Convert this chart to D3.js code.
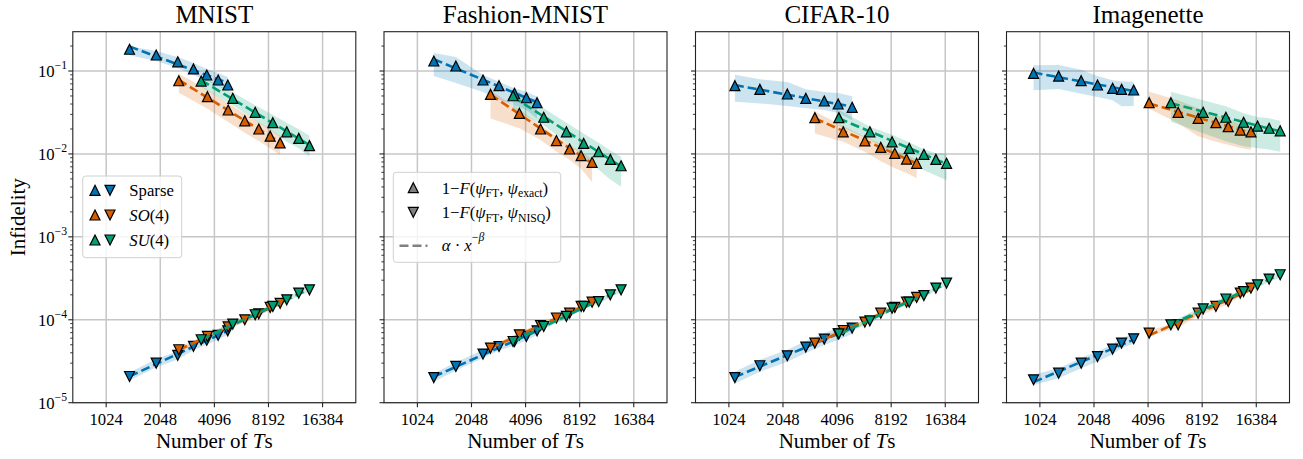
<!DOCTYPE html>
<html><head><meta charset="utf-8">
<script src="https://cdn.jsdelivr.net/npm/d3@7"></script>
<style>
body{margin:0;background:#fff}
svg{display:block}
text{font-family:"Liberation Serif","Times New Roman",serif;fill:#000}
</style>
</head><body>
<svg id="chart" width="1303" height="459"></svg>
<script>
// Panels, ticks and series labels
const datasets = ["MNIST", "Fashion-MNIST", "CIFAR-10", "Imagenette"];
const xTicks = [1024, 2048, 4096, 8192, 16384];
const yTicks = [1e-5, 1e-4, 1e-3, 1e-2, 1e-1];
const seriesNames = ["Sparse", "SO(4)", "SU(4)"];
const seriesColors = ["#0173b2", "#d55e00", "#029e73"];

// Rows: [number of Ts, 1-F exact, exact low, exact high, 1-F NISQ, NISQ low, NISQ high]
const mnistSparse = [
  [1381, 0.183, 0.155, 0.199, 2.07e-5, 1.85e-5, 2.32e-5],
  [1943, 0.156, 0.132, 0.174, 3.0e-5, 2.68e-5, 3.36e-5],
  [2562, 0.129, 0.109, 0.148, 3.73e-5, 3.33e-5, 4.18e-5],
  [3134, 0.106, 0.0898, 0.125, 4.79e-5, 4.28e-5, 5.36e-5],
  [3714, 0.0895, 0.0758, 0.1057, 5.66e-5, 5.05e-5, 6.34e-5],
  [4300, 0.0779, 0.066, 0.0946, 6.5e-5, 5.8e-5, 7.28e-5],
  [4864, 0.0678, 0.0574, 0.0847, 7.36e-5, 6.57e-5, 8.24e-5]
];
const mnistSO4 = [
  [2596, 0.0763, 0.0547, 0.093, 4.35e-5, 4.07e-5, 4.65e-5],
  [3748, 0.049, 0.0351, 0.06, 6.3e-5, 5.89e-5, 6.74e-5],
  [4888, 0.0339, 0.0243, 0.041, 8.2e-5, 7.66e-5, 8.77e-5],
  [6046, 0.0251, 0.018, 0.0305, 1.0e-4, 9.35e-5, 1.07e-4],
  [7235, 0.02, 0.0143, 0.0243, 1.18e-4, 1.1e-4, 1.26e-4],
  [8370, 0.0164, 0.0117, 0.02, 1.41e-4, 1.32e-4, 1.51e-4],
  [9515, 0.0136, 0.0097, 0.0165, 1.58e-4, 1.48e-4, 1.69e-4]
];
const mnistSU4 = [
  [3458, 0.0757, 0.0641, 0.0846, 5.74e-5, 5.36e-5, 6.14e-5],
  [5185, 0.0469, 0.0386, 0.0554, 8.87e-5, 8.29e-5, 9.49e-5],
  [6909, 0.0318, 0.0255, 0.0386, 1.15e-4, 1.07e-4, 1.23e-4],
  [8660, 0.0238, 0.0185, 0.0297, 1.45e-4, 1.36e-4, 1.55e-4],
  [10356, 0.0185, 0.014, 0.0238, 1.74e-4, 1.63e-4, 1.86e-4],
  [12078, 0.0154, 0.0117, 0.0198, 2.1e-4, 1.96e-4, 2.25e-4],
  [13855, 0.0126, 0.0093, 0.0166, 2.3e-4, 2.15e-4, 2.46e-4]
];
const fashionSparse = [
  [1264, 0.132, 0.087, 0.165, 2.01e-5, 1.79e-5, 2.25e-5],
  [1676, 0.115, 0.0719, 0.148, 2.74e-5, 2.45e-5, 3.07e-5],
  [2374, 0.0779, 0.0558, 0.0895, 3.86e-5, 3.45e-5, 4.32e-5],
  [2915, 0.0665, 0.0451, 0.0743, 4.76e-5, 4.25e-5, 5.33e-5],
  [3553, 0.0538, 0.0385, 0.0618, 5.47e-5, 4.88e-5, 6.13e-5],
  [4137, 0.0476, 0.0341, 0.0562, 6.3e-5, 5.63e-5, 7.06e-5],
  [4747, 0.0415, 0.0266, 0.049, 7.36e-5, 6.57e-5, 8.24e-5]
];
const fashionSO4 = [
  [2613, 0.0523, 0.0268, 0.0584, 4.56e-5, 4.26e-5, 4.88e-5],
  [3783, 0.0309, 0.0204, 0.0345, 6.59e-5, 6.16e-5, 7.05e-5],
  [4962, 0.02, 0.0147, 0.0223, 8.53e-5, 7.97e-5, 9.13e-5],
  [6079, 0.0145, 0.0107, 0.0162, 1.05e-4, 9.81e-5, 1.12e-4],
  [7201, 0.01147, 0.00845, 0.0128, 1.2e-4, 1.12e-4, 1.28e-4],
  [8348, 0.00952, 0.00663, 0.0106, 1.45e-4, 1.36e-4, 1.55e-4],
  [9604, 0.00793, 0.00455, 0.00886, 1.63e-4, 1.52e-4, 1.74e-4]
];
const fashionSU4 = [
  [3489, 0.0503, 0.0341, 0.0611, 5.47e-5, 5.11e-5, 5.85e-5],
  [5167, 0.0277, 0.0222, 0.0356, 8.3e-5, 7.76e-5, 8.88e-5],
  [6911, 0.0185, 0.0136, 0.0238, 1.1e-4, 1.03e-4, 1.18e-4],
  [8626, 0.0134, 0.00934, 0.0177, 1.45e-4, 1.36e-4, 1.55e-4],
  [10448, 0.01063, 0.00645, 0.01365, 1.66e-4, 1.55e-4, 1.78e-4],
  [12133, 0.0086, 0.00493, 0.011, 2.0e-4, 1.87e-4, 2.14e-4],
  [13928, 0.0072, 0.00402, 0.00925, 2.3e-4, 2.15e-4, 2.46e-4]
];
const cifarSparse = [
  [1106, 0.0665, 0.0426, 0.0902, 2.01e-5, 1.7e-5, 2.37e-5],
  [1523, 0.0601, 0.0407, 0.0793, 2.79e-5, 2.36e-5, 3.29e-5],
  [2164, 0.0528, 0.0378, 0.0737, 3.68e-5, 3.12e-5, 4.34e-5],
  [2744, 0.0469, 0.0355, 0.0602, 4.69e-5, 3.97e-5, 5.53e-5],
  [3477, 0.0435, 0.0339, 0.0559, 5.85e-5, 4.96e-5, 6.9e-5],
  [4153, 0.04, 0.0312, 0.0543, 6.77e-5, 5.74e-5, 7.99e-5],
  [4970, 0.0365, 0.0254, 0.0495, 7.94e-5, 6.73e-5, 9.37e-5]
];
const cifarSO4 = [
  [3082, 0.0274, 0.0176, 0.0324, 5.24e-5, 4.9e-5, 5.61e-5],
  [4433, 0.0185, 0.014, 0.0218, 7.43e-5, 6.94e-5, 7.95e-5],
  [5848, 0.0144, 0.0106, 0.0161, 9.38e-5, 8.77e-5, 1.0e-4],
  [7168, 0.012, 0.00814, 0.0134, 1.2e-4, 1.12e-4, 1.28e-4],
  [8580, 0.01017, 0.0067, 0.01105, 1.41e-4, 1.32e-4, 1.51e-4],
  [9976, 0.00868, 0.00588, 0.0097, 1.63e-4, 1.52e-4, 1.74e-4],
  [11350, 0.0077, 0.00508, 0.0086, 1.86e-4, 1.74e-4, 1.99e-4]
];
const cifarSU4 = [
  [4190, 0.0274, 0.0219, 0.0342, 6.77e-5, 6.33e-5, 7.24e-5],
  [6237, 0.0185, 0.0148, 0.0213, 9.72e-5, 9.08e-5, 1.04e-4],
  [8288, 0.014, 0.0103, 0.017, 1.38e-4, 1.29e-4, 1.48e-4],
  [10322, 0.0117, 0.00771, 0.0138, 1.63e-4, 1.52e-4, 1.74e-4],
  [12460, 0.0099, 0.00635, 0.01138, 1.96e-4, 1.83e-4, 2.1e-4],
  [14526, 0.0086, 0.00551, 0.01016, 2.41e-4, 2.25e-4, 2.58e-4],
  [16660, 0.0077, 0.0048, 0.01016, 2.77e-4, 2.59e-4, 2.96e-4]
];
const imagenetteSparse = [
  [944, 0.0938, 0.0585, 0.117, 1.89e-5, 1.64e-5, 2.17e-5],
  [1302, 0.087, 0.0606, 0.118, 2.27e-5, 1.97e-5, 2.61e-5],
  [1738, 0.0764, 0.0532, 0.1037, 3.0e-5, 2.61e-5, 3.45e-5],
  [2143, 0.0678, 0.0486, 0.087, 3.6e-5, 3.13e-5, 4.14e-5],
  [2600, 0.0618, 0.0443, 0.0772, 4.43e-5, 3.85e-5, 5.09e-5],
  [2917, 0.0601, 0.0375, 0.0751, 5.24e-5, 4.56e-5, 6.03e-5],
  [3406, 0.059, 0.0378, 0.0737, 5.9e-5, 5.13e-5, 6.79e-5]
];
const imagenetteSO4 = [
  [4153, 0.0415, 0.0351, 0.0563, 6.9e-5, 6.39e-5, 7.45e-5],
  [6022, 0.0318, 0.0234, 0.0444, 8.7e-5, 8.06e-5, 9.4e-5],
  [7777, 0.0269, 0.0163, 0.0355, 1.2e-4, 1.11e-4, 1.3e-4],
  [9765, 0.0238, 0.014, 0.0297, 1.45e-4, 1.34e-4, 1.57e-4],
  [11437, 0.0213, 0.0129, 0.0259, 1.66e-4, 1.54e-4, 1.79e-4],
  [13354, 0.0194, 0.0118, 0.0229, 2.1e-4, 1.94e-4, 2.27e-4],
  [15307, 0.0185, 0.0112, 0.0213, 2.41e-4, 2.23e-4, 2.6e-4]
];
const imagenetteSU4 = [
  [5487, 0.0415, 0.0244, 0.0563, 8.7e-5, 8.06e-5, 9.4e-5],
  [8293, 0.0318, 0.0178, 0.0444, 1.35e-4, 1.25e-4, 1.46e-4],
  [11099, 0.0277, 0.0142, 0.0376, 1.78e-4, 1.65e-4, 1.92e-4],
  [13927, 0.0241, 0.0124, 0.0309, 2.19e-4, 2.03e-4, 2.37e-4],
  [16660, 0.0217, 0.0117, 0.0279, 2.64e-4, 2.44e-4, 2.85e-4],
  [19318, 0.0204, 0.0113, 0.0269, 3.1e-4, 2.87e-4, 3.35e-4],
  [22256, 0.019, 0.0106, 0.0251, 3.49e-4, 3.23e-4, 3.77e-4]
];

const panelSeries = [
  [mnistSparse, mnistSO4, mnistSU4],
  [fashionSparse, fashionSO4, fashionSU4],
  [cifarSparse, cifarSO4, cifarSU4],
  [imagenetteSparse, imagenetteSO4, imagenetteSU4]
];

// Layout
const panelLeft = [72.8, 384, 695.5, 1006.5];
const panelTop = 31.7, panelW = 283, panelH = 371;
const tickFont = 16.7, labelFont = 21, titleFont = 25;

const svg = d3.select("#chart");
const x = d3.scaleLog().base(2).domain([667.6, 25080]).range([0, panelW]);
const y = d3.scaleLog().domain([1e-5, 0.298]).range([panelH, 0]);

const up = s => `M0,${-s}L${s},${s}L${-s},${s}Z`;
const down = s => `M0,${s}L${s},${-s}L${-s},${-s}Z`;
const mSize = 5;

// Power-law fit y = a * x^b in log-log space
function fit(rows, col) {
  const lx = rows.map(r => Math.log(r[0])), ly = rows.map(r => Math.log(r[col]));
  const mx = d3.mean(lx), my = d3.mean(ly);
  let num = 0, den = 0;
  lx.forEach((v, i) => { num += (v - mx) * (ly[i] - my); den += (v - mx) ** 2; });
  const b = num / den, a = my - b * mx;
  const x0 = d3.min(rows, r => r[0]), x1 = d3.max(rows, r => r[0]);
  return [[x0, Math.exp(a + b * Math.log(x0))], [x1, Math.exp(a + b * Math.log(x1))]];
}

function superText(sel, base, sup, fs, dy) {
  sel.append("tspan").text(base);
  sel.append("tspan").attr("font-size", fs * 0.7).attr("dy", dy).text(sup);
}

datasets.forEach((name, p) => {
  const g = svg.append("g").attr("transform", `translate(${panelLeft[p]},${panelTop})`);

  // grid
  g.append("g").selectAll("line").data(xTicks).join("line")
    .attr("x1", d => x(d)).attr("x2", d => x(d)).attr("y1", 0).attr("y2", panelH)
    .attr("stroke", "#c6c6c6").attr("stroke-width", 1.5);
  g.append("g").selectAll("line").data(yTicks).join("line")
    .attr("x1", 0).attr("x2", panelW).attr("y1", d => y(d)).attr("y2", d => y(d))
    .attr("stroke", "#c6c6c6").attr("stroke-width", 1.5);

  const series = panelSeries[p];

  // spread bands
  series.forEach((rows, s) => {
    const col = seriesColors[s];
    g.append("path").datum(rows)
      .attr("d", d3.area().x(r => x(r[0])).y0(r => y(r[2])).y1(r => y(r[3])))
      .attr("fill", col).attr("fill-opacity", 0.2);
    g.append("path").datum(rows)
      .attr("d", d3.area().x(r => x(r[0])).y0(r => y(r[5])).y1(r => y(r[6])))
      .attr("fill", col).attr("fill-opacity", 0.2);
  });

  // fits and markers
  const line = d3.line().x(d => x(d[0])).y(d => y(d[1]));
  series.forEach((rows, s) => {
    const col = seriesColors[s];
    [1, 4].forEach(c => {
      g.append("path").datum(fit(rows, c)).attr("d", line)
        .attr("fill", "none").attr("stroke", col).attr("stroke-width", 2.6)
        .attr("stroke-dasharray", "9,4");
    });
    g.append("g").selectAll("path").data(rows).join("path")
      .attr("transform", r => `translate(${x(r[0])},${y(r[1])})`)
      .attr("d", up(mSize)).attr("fill", col).attr("stroke", "#000").attr("stroke-width", 1.2);
    g.append("g").selectAll("path").data(rows).join("path")
      .attr("transform", r => `translate(${x(r[0])},${y(r[4])})`)
      .attr("d", down(mSize)).attr("fill", col).attr("stroke", "#000").attr("stroke-width", 1.2);
  });

  // frame
  g.append("rect").attr("width", panelW).attr("height", panelH)
    .attr("fill", "none").attr("stroke", "#222").attr("stroke-width", 1.1);

  // x ticks
  const xt = g.append("g").selectAll("g").data(xTicks).join("g")
    .attr("transform", d => `translate(${x(d)},${panelH})`);
  xt.append("line").attr("y2", 4.5).attr("stroke", "#222").attr("stroke-width", 1.1);
  xt.append("text").attr("y", 22.6).attr("text-anchor", "middle")
    .attr("font-size", tickFont).text(d => d);

  // y ticks (major + minor)
  const minor = [];
  for (let e = -5; e < 0; e++) for (let m = 2; m <= 9; m++) {
    const v = m * Math.pow(10, e);
    if (v <= 0.298) minor.push(v);
  }
  g.append("g").selectAll("line").data(minor).join("line")
    .attr("x1", -2.6).attr("x2", 0).attr("y1", d => y(d)).attr("y2", d => y(d))
    .attr("stroke", "#222").attr("stroke-width", 0.9);
  g.append("g").selectAll("line").data(yTicks).join("line")
    .attr("x1", -4.5).attr("x2", 0).attr("y1", d => y(d)).attr("y2", d => y(d))
    .attr("stroke", "#222").attr("stroke-width", 1.1);
  if (p === 0) {
    yTicks.forEach(v => {
      const t = g.append("text").attr("x", -5.8).attr("y", y(v) + 6.2)
        .attr("text-anchor", "end").attr("font-size", tickFont);
      superText(t, "10", "\u2212" + Math.round(-Math.log10(v)), tickFont, -8);
    });
  }

  // title and axis label
  g.append("text").attr("x", panelW / 2).attr("y", 23 - panelTop)
    .attr("text-anchor", "middle").attr("font-size", titleFont).text(name);
  const xl = g.append("text").attr("x", panelW / 2).attr("y", 448 - panelTop)
    .attr("text-anchor", "middle").attr("font-size", labelFont);
  xl.append("tspan").text("Number of ");
  xl.append("tspan").attr("font-style", "italic").text("T");
  xl.append("tspan").text("s");
});

// y label
svg.append("text").attr("transform", `translate(25,${panelTop + panelH / 2}) rotate(-90)`)
  .attr("text-anchor", "middle").attr("font-size", labelFont).text("Infidelity");

// Legend: series
{
  const lg = svg.append("g");
  lg.append("rect").attr("x", 82.7).attr("y", 176).attr("width", 99).attr("height", 81.7)
    .attr("rx", 3).attr("fill", "#fff").attr("fill-opacity", 0.8)
    .attr("stroke", "#d0d0d0").attr("stroke-width", 1);
  const ys = [190.3, 215, 240];
  seriesNames.forEach((nm, s) => {
    lg.append("path").attr("transform", `translate(95,${ys[s]})`).attr("d", up(mSize))
      .attr("fill", seriesColors[s]).attr("stroke", "#000").attr("stroke-width", 1.2);
    lg.append("path").attr("transform", `translate(110,${ys[s]})`).attr("d", down(mSize))
      .attr("fill", seriesColors[s]).attr("stroke", "#000").attr("stroke-width", 1.2);
    const t = lg.append("text").attr("x", 129.3).attr("y", ys[s] + 5.8).attr("font-size", tickFont);
    if (s === 0) t.text(nm);
    else {
      t.append("tspan").attr("font-style", "italic").text(nm.slice(0, 2));
      t.append("tspan").text(nm.slice(2));
    }
  });
}

// Legend: quantities
{
  const lg = svg.append("g");
  lg.append("rect").attr("x", 393.3).attr("y", 172.3).attr("width", 167.4).attr("height", 90)
    .attr("rx", 3).attr("fill", "#fff").attr("fill-opacity", 0.8)
    .attr("stroke", "#d0d0d0").attr("stroke-width", 1);
  lg.append("path").attr("transform", "translate(413.3,187.7)").attr("d", up(mSize))
    .attr("fill", "#808080").attr("stroke", "#000").attr("stroke-width", 1.2);
  lg.append("path").attr("transform", "translate(413.3,212.3)").attr("d", down(mSize))
    .attr("fill", "#808080").attr("stroke", "#000").attr("stroke-width", 1.2);
  lg.append("line").attr("x1", 399.5).attr("x2", 427.5).attr("y1", 245.7).attr("y2", 245.7)
    .attr("stroke", "#808080").attr("stroke-width", 2.6).attr("stroke-dasharray", "9,4");
  const subs = ["exact", "NISQ"];
  [187.7, 212.3].forEach((yy, i) => {
    const t = lg.append("text").attr("x", 441.7).attr("y", yy + 5.8).attr("font-size", tickFont);
    t.append("tspan").text("1\u2212");
    t.append("tspan").attr("font-style", "italic").text("F");
    t.append("tspan").text("(");
    t.append("tspan").attr("font-style", "italic").text("\u03c8");
    t.append("tspan").attr("font-size", 11.7).attr("dy", 3.5).text("FT");
    t.append("tspan").attr("dy", -3.5).text(", ");
    t.append("tspan").attr("font-style", "italic").text("\u03c8");
    t.append("tspan").attr("font-size", 11.7).attr("dy", 3.5).text(subs[i]);
    t.append("tspan").attr("dy", -3.5).text(")");
  });
  const t3 = lg.append("text").attr("x", 441.7).attr("y", 251).attr("font-size", tickFont);
  t3.append("tspan").attr("font-style", "italic").text("\u03b1");
  t3.append("tspan").text(" \u00b7 ");
  t3.append("tspan").attr("font-style", "italic").text("x");
  t3.append("tspan").attr("font-size", 11.7).attr("dy", -10).text("\u2212");
  t3.append("tspan").attr("font-size", 11.7).attr("font-style", "italic").text("\u03b2");
}
</script>
</body></html>
